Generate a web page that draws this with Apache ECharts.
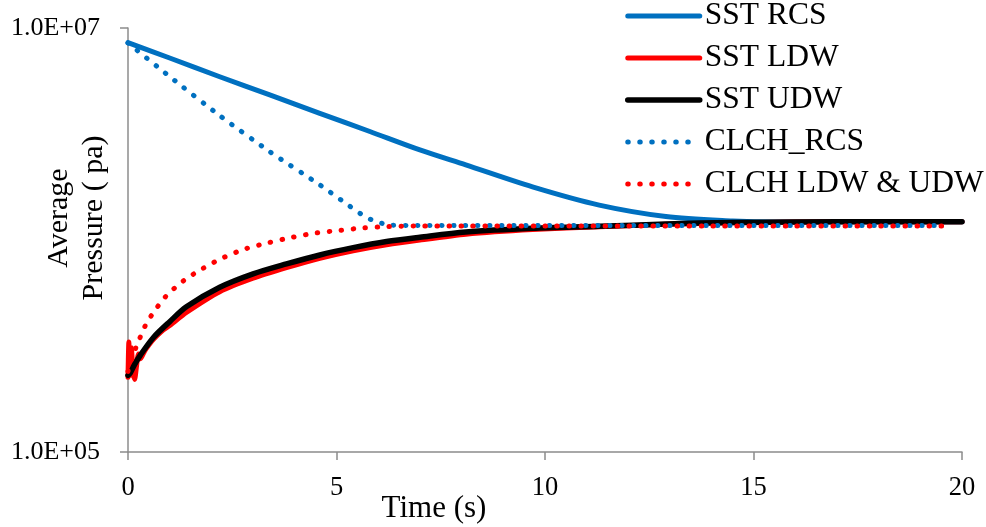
<!DOCTYPE html>
<html>
<head>
<meta charset="utf-8">
<script src="https://cdn.jsdelivr.net/npm/echarts@6/dist/echarts.min.js"></script>
<style>
html,body{margin:0;padding:0;background:#fff;}
#chart{width:986px;height:527px;}
</style>
</head>
<body>
<div id="chart"></div>
<script>
// ---- Data ----
const seriesNames = ['SST RCS', 'SST LDW', 'SST UDW', 'CLCH_RCS', 'CLCH LDW & UDW'];

const sstRcsTime = [0, 1, 2.2, 3.4, 4.6, 5.8, 7.0, 8.1, 9.7, 11.3, 12.9, 14.5, 15.5, 17, 20];
const sstRcsPressure = [8.53e6, 7.22e6, 5.89e6, 4.84e6, 3.96e6, 3.25e6, 2.66e6, 2.26e6, 1.78e6, 1.46e6, 1.29e6, 1.23e6, 1.215e6, 1.22e6, 1.22e6];

const sstLdwTime = [0, 0.02, 0.05, 0.08, 0.12, 0.16, 0.2, 0.25, 0.3, 0.4, 0.5, 0.61, 0.8, 1.0, 1.4, 2.2, 3.0, 3.8, 4.6, 5.4, 6.2, 7.0, 8.1, 9.7, 11.3, 12.9, 14.5, 16, 18, 20];
const sstLdwPressure = [2.25e5, 3.3e5, 2.3e5, 3.1e5, 2.4e5, 2.2e5, 2.5e5, 2.9e5, 2.75e5, 3.0e5, 3.2e5, 3.4e5, 3.7e5, 3.95e5, 4.55e5, 5.7e5, 6.6e5, 7.4e5, 8.2e5, 8.9e5, 9.5e5, 1.0e6, 1.065e6, 1.12e6, 1.155e6, 1.185e6, 1.205e6, 1.215e6, 1.22e6, 1.22e6];

const sstUdwTime = [0, 0.05, 0.15, 0.3, 0.61, 1.0, 1.4, 2.2, 3.0, 3.8, 4.6, 5.4, 6.2, 7.0, 8.1, 9.7, 11.3, 12.9, 14.5, 16, 18, 20];
const sstUdwPressure = [2.3e5, 2.35e5, 2.57e5, 2.87e5, 3.47e5, 4.12e5, 4.84e5, 5.98e5, 6.92e5, 7.71e5, 8.5e5, 9.2e5, 9.83e5, 1.03e6, 1.09e6, 1.135e6, 1.16e6, 1.19e6, 1.21e6, 1.215e6, 1.22e6, 1.22e6];

const clchRcsTime = [0, 1.0, 2.2, 3.4, 4.6, 5.2, 5.68, 5.95, 6.3, 8, 10, 12, 14, 16, 18, 19.6];
const clchRcsPressure = [8.5e6, 5.9e6, 3.86e6, 2.61e6, 1.82e6, 1.5e6, 1.29e6, 1.22e6, 1.175e6, 1.17e6, 1.17e6, 1.17e6, 1.17e6, 1.17e6, 1.17e6, 1.17e6];

const clchDwTime = [0, 0.1, 0.2, 0.41, 0.57, 0.9, 1.33, 1.8, 2.3, 2.83, 3.36, 3.94, 4.52, 5.08, 5.64, 6.2, 7, 8, 10, 12, 14, 16, 18, 19.6];
const clchDwPressure = [2.4e5, 2.8e5, 3.14e5, 3.93e5, 4.43e5, 5.4e5, 6.42e5, 7.35e5, 8.28e5, 9.1e5, 9.7e5, 1.03e6, 1.08e6, 1.11e6, 1.14e6, 1.156e6, 1.165e6, 1.165e6, 1.165e6, 1.165e6, 1.165e6, 1.165e6, 1.165e6, 1.165e6];

const xTicks = [0, 5, 10, 15, 20];
const yTickValues = [1e5, 1e7];
const yTickLabels = ['1.0E+05', '1.0E+07'];

// ---- Chart ----
const FONT = "'Liberation Serif', 'Times New Roman', serif";
const pair = (xs, ys) => xs.map((x, i) => [x, ys[i]]);

const chart = echarts.init(document.getElementById('chart'), null, {renderer: 'canvas'});
const axisGray = '#8c8c8c';

const solid = (color, w) => ({color: color, width: w, type: 'solid', cap: 'round', join: 'round'});
const dotted = (color) => ({color: color, width: 5, type: [0.5, 11.5], cap: 'round'});

chart.setOption({
  animation: false,
  backgroundColor: '#fff',
  grid: {left: 128, right: 24, top: 28, bottom: 75, containLabel: false, outerBoundsMode: 'none'},
  legend: {
    orient: 'vertical',
    left: 625, top: 0, padding: 0,
    itemWidth: 72, itemHeight: 14, itemGap: 10,
    data: seriesNames,
    itemStyle: {color: 'transparent', borderColor: 'transparent', borderWidth: 0, opacity: 0},
    lineStyle: {width: 'inherit', cap: 'round'},
    textStyle: {fontFamily: FONT, fontSize: 31.5, lineHeight: 31, color: '#000'}
  },
  xAxis: {
    type: 'value',
    min: xTicks[0], max: xTicks[xTicks.length - 1], interval: 5,
    name: 'Time (s)',
    nameLocation: 'middle',
    nameGap: 41,
    nameMoveOverlap: false,
    nameTextStyle: {fontFamily: FONT, fontSize: 31, color: '#000', padding: [0, 222, 0, 0]},
    axisLine: {show: true, onZero: false, lineStyle: {color: axisGray, width: 1.5}},
    axisTick: {show: true, inside: false, length: 8, lineStyle: {color: axisGray, width: 1.5}},
    axisLabel: {fontFamily: FONT, fontSize: 26.5, color: '#000', margin: 23},
    splitLine: {show: false}
  },
  yAxis: {
    type: 'log', logBase: 10,
    min: yTickValues[0], max: yTickValues[1],
    splitNumber: 1,
    name: 'Average\nPressure ( pa)',
    nameLocation: 'middle',
    nameGap: 16,
    nameRotate: 90,
    nameMoveOverlap: false,
    nameTextStyle: {fontFamily: FONT, fontSize: 30, lineHeight: 35, color: '#000', padding: [0, 0, 0, 44]},
    axisLine: {show: true, onZero: false, lineStyle: {color: axisGray, width: 1.5}},
    axisTick: {show: true, inside: false, length: 8, lineStyle: {color: axisGray, width: 1.5}},
    axisLabel: {
      fontFamily: FONT, fontSize: 26, color: '#000', margin: 28,
      formatter: function (v) {
        const i = yTickValues.findIndex(t => Math.abs(Math.log10(t) - Math.log10(v)) < 1e-6);
        return i >= 0 ? yTickLabels[i] : '';
      }
    },
    splitLine: {show: false}
  },
  series: [
    {name: seriesNames[0], type: 'line', data: pair(sstRcsTime, sstRcsPressure), symbol: 'none', smooth: 0.3, color: '#0070C0', lineStyle: solid('#0070C0', 5)},
    {name: seriesNames[1], type: 'line', data: pair(sstLdwTime, sstLdwPressure), symbol: 'none', smooth: 0.2, color: '#FF0000', lineStyle: solid('#FF0000', 5)},
    {name: seriesNames[2], type: 'line', data: pair(sstUdwTime, sstUdwPressure), symbol: 'none', smooth: 0.3, color: '#000000', lineStyle: solid('#000000', 5.5)},
    {name: seriesNames[3], type: 'line', data: pair(clchRcsTime, clchRcsPressure), symbol: 'none', smooth: 0.2, color: '#0070C0', lineStyle: dotted('#0070C0')},
    {name: seriesNames[4], type: 'line', data: pair(clchDwTime, clchDwPressure), symbol: 'none', smooth: 0.3, color: '#FF0000', lineStyle: dotted('#FF0000')}
  ]
});
</script>
</body>
</html>
